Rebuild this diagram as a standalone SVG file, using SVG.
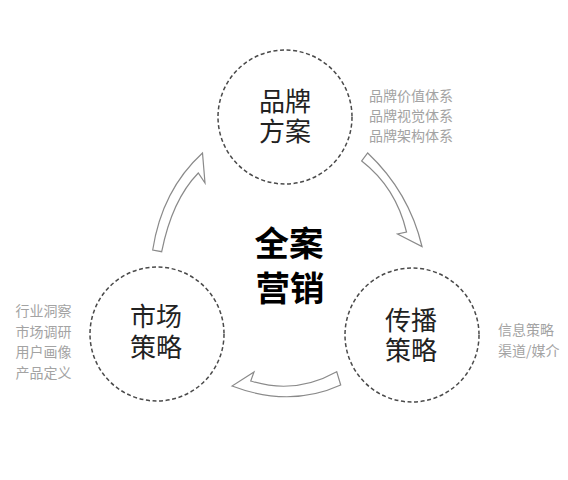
<svg xmlns="http://www.w3.org/2000/svg" width="568" height="480" viewBox="0 0 568 480">
  <style>
    .ring { fill: none; stroke: #4a4a4a; stroke-width: 1.5; stroke-dasharray: 4 2.6; }
    .title { font-family: "Noto Sans CJK SC", "Noto Sans", sans-serif; font-size: 26px; fill: #222; text-anchor: middle; }
    .note { font-family: "Noto Sans CJK SC", "Noto Sans", sans-serif; font-size: 14px; fill: #a3a3a3; }
    .core { font-family: "Noto Sans CJK SC", "Noto Sans", sans-serif; font-size: 34.5px; font-weight: 700; fill: #000; text-anchor: middle; }
    .arrow { fill: #fff; stroke: #8a8a8a; stroke-width: 1.2; stroke-linejoin: miter; }
  </style>
  <rect width="568" height="480" fill="#fff"/>

  <g id="connectors">
    <path class="arrow" d="M152.7,250 Q162,190 202.5,153 L205,183 L198.3,173 Q172,200 161.7,251.7 Z"/>
    <path class="arrow" d="M367.7,153 Q409,192 422,246.5 L397.5,234 L406.5,232 Q396,187.5 361.7,161 Z"/>
    <path class="arrow" d="M340.7,385 Q290,408 232,386 L254,372 L250.7,381 Q295,395 336.7,371.7 Z"/>
  </g>

  <g id="center">
    <text class="core" x="289" y="256">全案</text>
    <text class="core" x="290" y="301">营销</text>
  </g>

  <g id="brand">
    <circle class="ring" cx="285" cy="117" r="67"/>
    <text class="title" x="285" y="111">品牌</text>
    <text class="title" x="285" y="141">方案</text>
    <text class="note" x="369" y="101">品牌价值体系</text>
    <text class="note" x="369" y="121">品牌视觉体系</text>
    <text class="note" x="369" y="141">品牌架构体系</text>
  </g>

  <g id="market">
    <circle class="ring" cx="157" cy="334" r="67"/>
    <text class="title" x="156" y="326">市场</text>
    <text class="title" x="156" y="357">策略</text>
    <text class="note" x="15.5" y="316">行业洞察</text>
    <text class="note" x="15.5" y="336.7">市场调研</text>
    <text class="note" x="15.5" y="357.3">用户画像</text>
    <text class="note" x="15.5" y="378">产品定义</text>
  </g>

  <g id="spread">
    <circle class="ring" cx="412" cy="335" r="67"/>
    <text class="title" x="411" y="330">传播</text>
    <text class="title" x="411" y="360">策略</text>
    <text class="note" x="498" y="335">信息策略</text>
    <text class="note" x="498" y="356">渠道/媒介</text>
  </g>
</svg>
